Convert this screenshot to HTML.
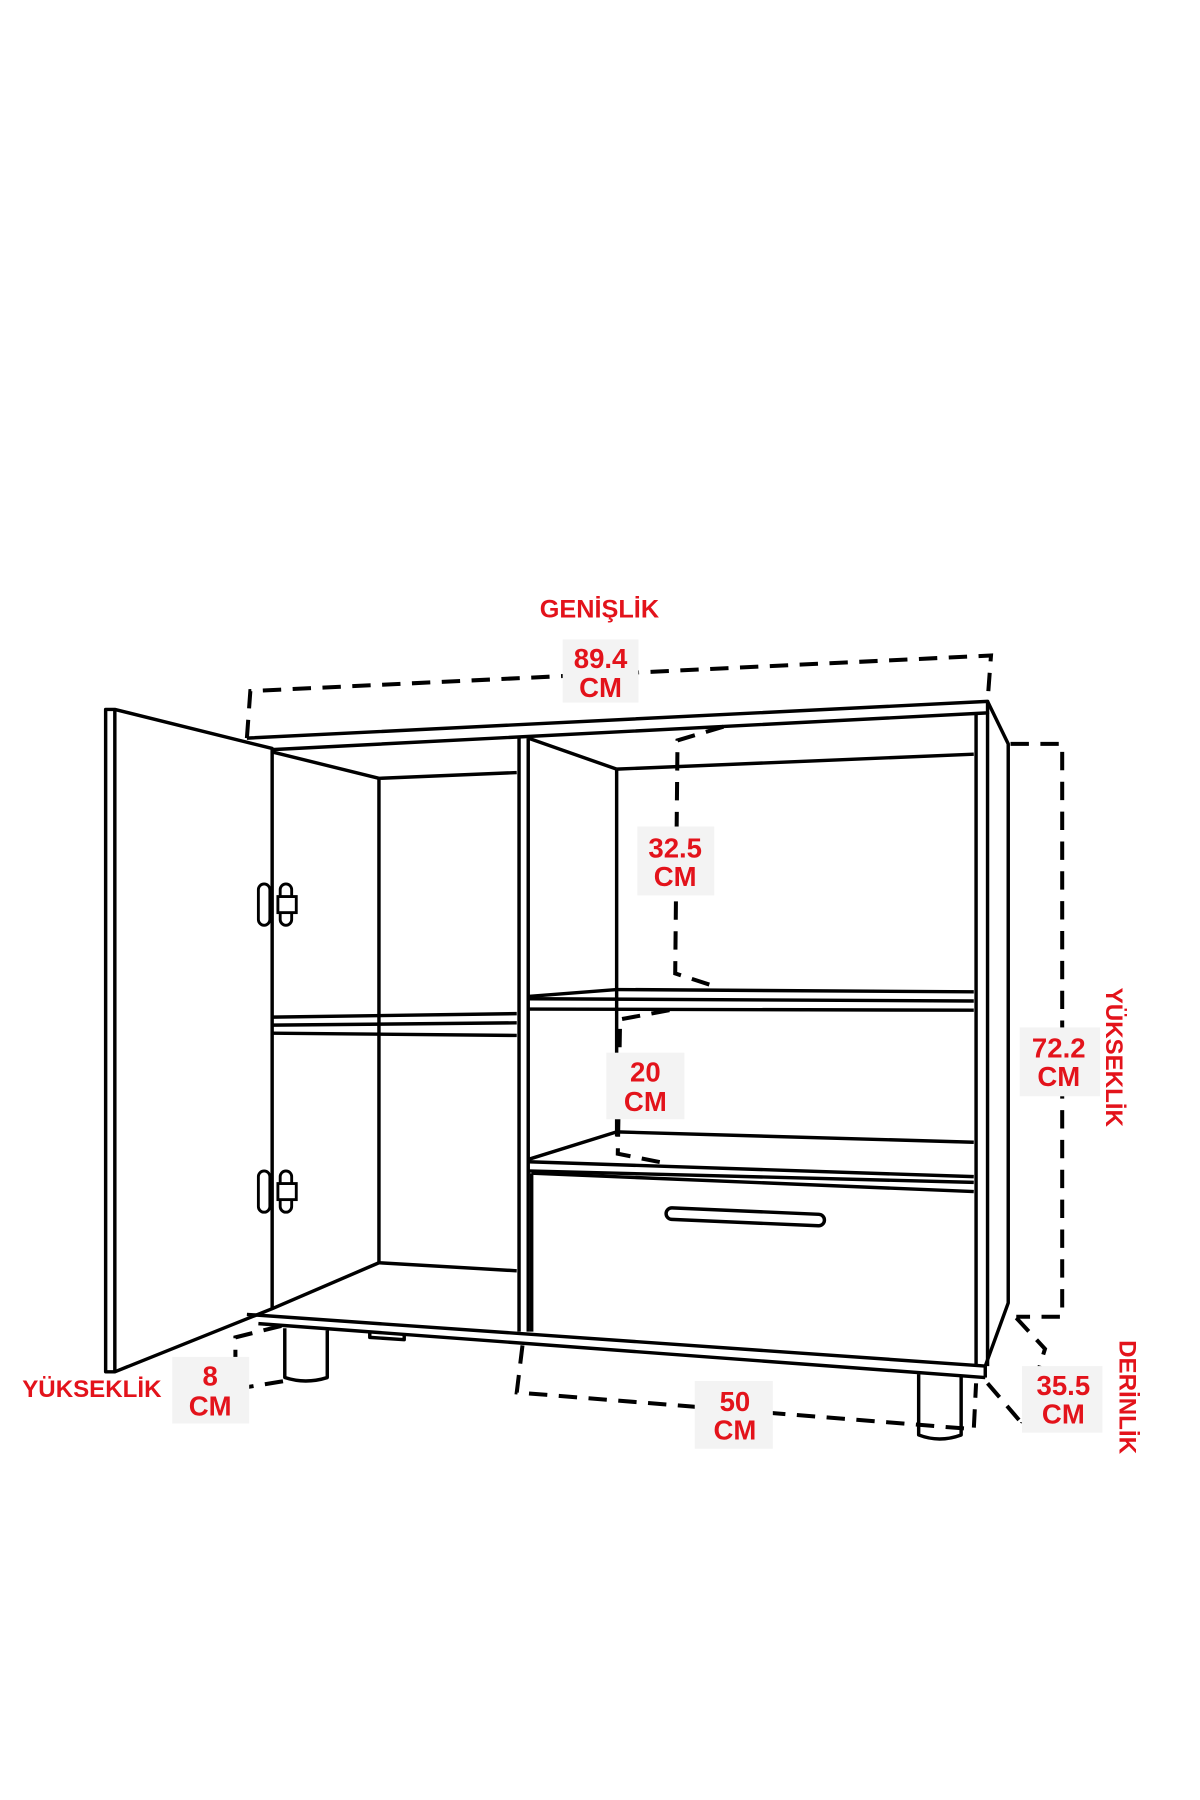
<!DOCTYPE html>
<html><head><meta charset="utf-8"><style>
html,body{margin:0;padding:0;background:#fff;}
svg{display:block;}
.r{fill:#e3131b;font-family:"Liberation Sans",sans-serif;font-weight:bold;}
</style></head><body>
<svg width="1200" height="1800" viewBox="0 0 1045 1568" preserveAspectRatio="none" xmlns="http://www.w3.org/2000/svg">
<rect width="1045" height="1568" fill="#fff"/>
<g fill="none" stroke="#000" stroke-width="3" stroke-linejoin="round">
<path d="M92,618 L100,618 L237,652 L237,1140 L100,1195 L92,1195 Z" fill="#fff"/>
<line x1="100" y1="618" x2="100" y2="1195"/>
<path d="M215,643 L860,611 L860,621 L237,653"/>
<path d="M860,611 L878,648 L878,1135 L858,1190"/>
<line x1="850" y1="622" x2="850" y2="1190"/>
<line x1="860" y1="621" x2="860" y2="1190"/>
<line x1="237" y1="655" x2="330" y2="678"/>
<line x1="330" y1="678" x2="450" y2="673"/>
<line x1="330" y1="678" x2="330" y2="1100"/>
<line x1="237" y1="1140" x2="330" y2="1100"/>
<line x1="330" y1="1100" x2="450" y2="1107"/>
<line x1="237" y1="886" x2="450" y2="883"/>
<line x1="237" y1="893" x2="450" y2="891"/>
<line x1="237" y1="900" x2="450" y2="902"/>
<line x1="452" y1="643" x2="452" y2="1160"/>
<line x1="460" y1="643" x2="460" y2="1160"/>
<line x1="460" y1="643" x2="537" y2="670"/>
<line x1="537" y1="670" x2="537" y2="990"/>
<line x1="537" y1="670" x2="848" y2="657"/>
<line x1="537" y1="862" x2="848" y2="864"/>
<line x1="460" y1="868" x2="537" y2="862"/>
<line x1="460" y1="870" x2="848" y2="872"/>
<line x1="460" y1="879" x2="848" y2="880"/>
<line x1="537" y1="986" x2="848" y2="995"/>
<line x1="460" y1="1010" x2="537" y2="986"/>
<line x1="460" y1="1012" x2="848" y2="1025"/>
<line x1="460" y1="1020" x2="848" y2="1030"/>
<line x1="463" y1="1022" x2="848" y2="1038"/>
<line x1="463" y1="1022" x2="463" y2="1160"/>
<rect x="580" y="1055" width="138" height="10" rx="5" transform="rotate(2.5 649 1060)"/>
<line x1="215" y1="1145" x2="858" y2="1190"/>
<line x1="225" y1="1153" x2="858" y2="1200"/>
<line x1="858" y1="1190" x2="858" y2="1200"/>
<path d="M248,1157 L248,1200 Q266,1206 285,1200 L285,1159"/>
<path d="M800,1197 L800,1250 Q818,1257 837,1250 L837,1199"/>
<path d="M322,1160 L322,1165 L352,1167 L352,1162"/>
</g>
<g fill="#fff" stroke="#000" stroke-width="2.5">
<rect x="225" y="770" width="10" height="36" rx="5"/><rect x="244" y="770" width="10" height="36" rx="5"/><rect x="242" y="781" width="16" height="14"/>
<rect x="225" y="1020" width="10" height="36" rx="5"/><rect x="244" y="1020" width="10" height="36" rx="5"/><rect x="242" y="1031" width="16" height="14"/>
</g>
<g fill="none" stroke="#000" stroke-width="3.5" stroke-dasharray="16,10">
<path d="M215,643 L218,602 L863,571 L860,611"/>
<path d="M630,633 L590,645 L588,848 L625,860"/>
<path d="M583,880 L540,888 L538,1005 L578,1013"/>
<path d="M880,648 L925,648 L925,1147 L885,1147"/>
<path d="M245,1155 L205,1165 L205,1200"/>
<path d="M205,1210 L248,1203"/>
<path d="M455,1172 L450,1213 L848,1245 L850,1205"/>
<path d="M885,1148 L910,1175 L890,1240"/>
<path d="M860,1205 L890,1240"/>
</g>
<g fill="#f3f3f3">
<rect x="490" y="557" width="66" height="55"/>
<rect x="555" y="720" width="67" height="60"/>
<rect x="528" y="917" width="68" height="58"/>
<rect x="888" y="895" width="70" height="60"/>
<rect x="150" y="1182" width="67" height="58"/>
<rect x="605" y="1203" width="68" height="59"/>
<rect x="890" y="1190" width="70" height="58"/>
</g>
<g class="r" font-size="24" text-anchor="middle">
<text x="522" y="538" font-size="22">GENİŞLİK</text>
<text x="523" y="582">89.4</text><text x="523" y="607">CM</text>
<text x="588" y="747">32.5</text><text x="588" y="772">CM</text>
<text x="562" y="942">20</text><text x="562" y="968">CM</text>
<text x="922" y="921">72.2</text><text x="922" y="946">CM</text>
<text x="183" y="1207">8</text><text x="183" y="1233">CM</text>
<text x="640" y="1229">50</text><text x="640" y="1254">CM</text>
<text x="926" y="1215">35.5</text><text x="926" y="1240">CM</text>
<text x="80" y="1217" font-size="21">YÜKSEKLİK</text>
<text x="0" y="0" font-size="21" transform="translate(963,921) rotate(90)">YÜKSEKLİK</text>
<text x="0" y="0" font-size="21" transform="translate(975,1217) rotate(90)">DERİNLİK</text>
</g>
</svg>
</body></html>
